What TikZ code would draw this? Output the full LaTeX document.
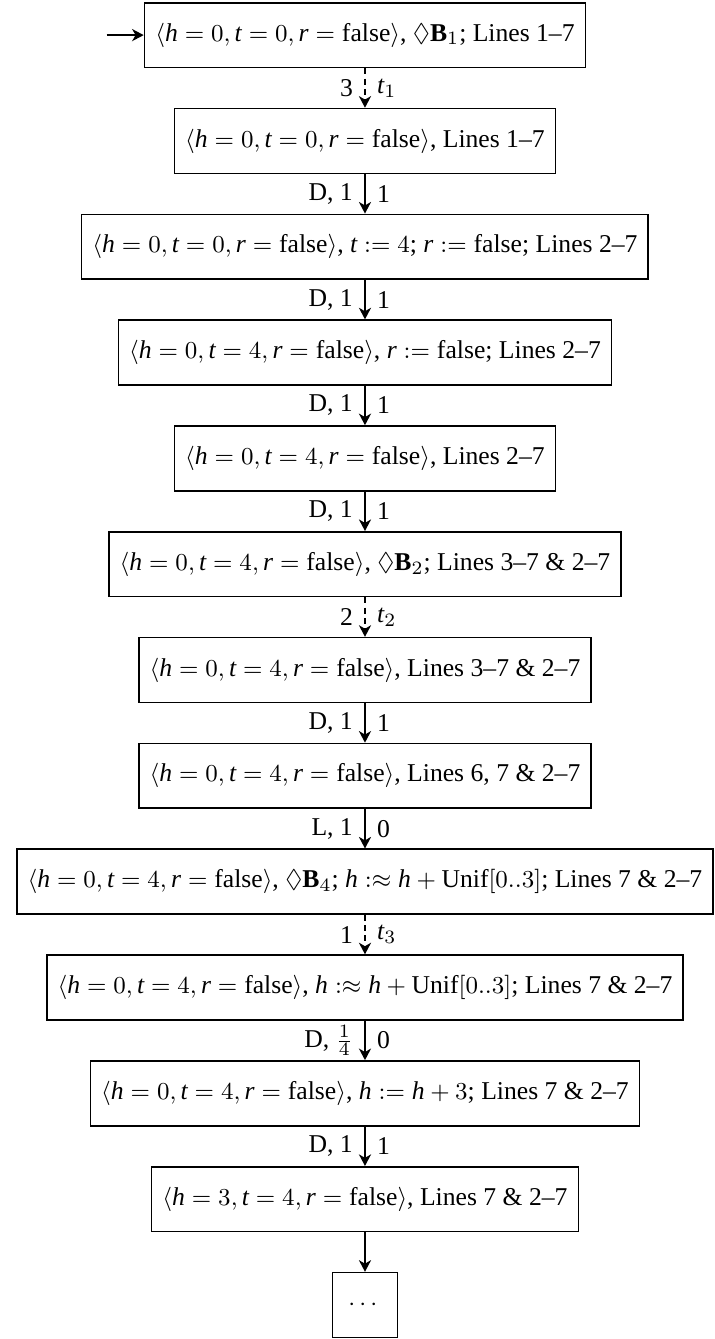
\documentclass[tikz,border=0pt]{standalone}
\usepackage{amsmath,amssymb}
\usepackage{fontspec}
\setmainfont{Liberation Serif}
\setmathrm{Liberation Serif}
\DeclareSymbolFont{varletters}{TU}{\rmdefault}{m}{it}
\DeclareSymbolFont{varupright}{TU}{\rmdefault}{m}{n}
\DeclareMathSymbol{h}{\mathalpha}{varletters}{`h}
\DeclareMathSymbol{t}{\mathalpha}{varletters}{`t}
\DeclareMathSymbol{r}{\mathalpha}{varletters}{`r}
\DeclareMathSymbol{0}{\mathalpha}{varupright}{`0}
\DeclareMathSymbol{1}{\mathalpha}{varupright}{`1}
\DeclareMathSymbol{2}{\mathalpha}{varupright}{`2}
\DeclareMathSymbol{3}{\mathalpha}{varupright}{`3}
\DeclareMathSymbol{4}{\mathalpha}{varupright}{`4}
\usetikzlibrary{positioning,arrows.meta}
\tikzset{
  statebox/.style={draw, line width=0.6pt, inner xsep=4pt, minimum height=24pt, font=\fontsize{9.5}{11.4}\selectfont},
  dotsbox/.style={statebox, minimum width=24pt},
  steparrow/.style={-{Stealth[length=4.3pt, width=4.5pt, inset=1.3pt]}, line width=0.6pt},
  probarrow/.style={steparrow, dash pattern=on 2.2pt off 1.6pt},
  edgelabel/.style={font=\fontsize{9.5}{11.4}\selectfont, inner sep=4.2pt},
}

\begin{document}
\begin{tikzpicture}[node distance=14.6pt]
  \useasboundingbox (-135.2pt,13pt) rectangle (129.6pt,-483pt);
  % Zustaende
  \node[statebox] (s1) at (0,0) {$\langle h = 0, t = 0, r = \text{false}\rangle$, $\Diamond\mathbf{B}_1$; Lines 1--7};
  \node[statebox, below=of s1] (s2) {$\langle h = 0, t = 0, r = \text{false}\rangle$, Lines 1--7};
  \node[statebox, below=of s2] (s3) {$\langle h = 0, t = 0, r = \text{false}\rangle$, $t := 4$; $r := \text{false}$; Lines 2--7};
  \node[statebox, below=of s3] (s4) {$\langle h = 0, t = 4, r = \text{false}\rangle$, $r := \text{false}$; Lines 2--7};
  \node[statebox, below=of s4] (s5) {$\langle h = 0, t = 4, r = \text{false}\rangle$, Lines 2--7};
  \node[statebox, below=of s5] (s6) {$\langle h = 0, t = 4, r = \text{false}\rangle$, $\Diamond\mathbf{B}_2$; Lines 3--7 \& 2--7};
  \node[statebox, below=of s6] (s7) {$\langle h = 0, t = 4, r = \text{false}\rangle$, Lines 3--7 \& 2--7};
  \node[statebox, below=of s7] (s8) {$\langle h = 0, t = 4, r = \text{false}\rangle$, Lines 6, 7 \& 2--7};
  \node[statebox, below=of s8] (s9) {$\langle h = 0, t = 4, r = \text{false}\rangle$, $\Diamond\mathbf{B}_4$; $h :\approx h + \text{Unif}[0..3]$; Lines 7 \& 2--7};
  \node[statebox, below=of s9] (s10) {$\langle h = 0, t = 4, r = \text{false}\rangle$, $h :\approx h + \text{Unif}[0..3]$; Lines 7 \& 2--7};
  \node[statebox, below=of s10] (s11) {$\langle h = 0, t = 4, r = \text{false}\rangle$, $h := h + 3$; Lines 7 \& 2--7};
  \node[statebox, below=of s11] (s12) {$\langle h = 3, t = 4, r = \text{false}\rangle$, Lines 7 \& 2--7};
  \node[dotsbox, below=of s12] (s13) {$\cdots$};
  % Startpfeil
  \coordinate (init) at ([xshift=-13.7pt]s1.west);
  \draw[steparrow] (init) -- (s1);
  % Uebergaenge
  \draw[probarrow] (s1) -- node[edgelabel, left] {3} node[edgelabel, right] {$t_1$} (s2);
  \draw[steparrow] (s2) -- node[edgelabel, left] {D, 1} node[edgelabel, right] {1} (s3);
  \draw[steparrow] (s3) -- node[edgelabel, left] {D, 1} node[edgelabel, right] {1} (s4);
  \draw[steparrow] (s4) -- node[edgelabel, left] {D, 1} node[edgelabel, right] {1} (s5);
  \draw[steparrow] (s5) -- node[edgelabel, left] {D, 1} node[edgelabel, right] {1} (s6);
  \draw[probarrow] (s6) -- node[edgelabel, left] {2} node[edgelabel, right] {$t_2$} (s7);
  \draw[steparrow] (s7) -- node[edgelabel, left] {D, 1} node[edgelabel, right] {1} (s8);
  \draw[steparrow] (s8) -- node[edgelabel, left] {L, 1} node[edgelabel, right] {0} (s9);
  \draw[probarrow] (s9) -- node[edgelabel, left] {1} node[edgelabel, right] {$t_3$} (s10);
  \draw[steparrow] (s10) -- node[edgelabel, left] {D, $\frac{1}{4}$} node[edgelabel, right] {0} (s11);
  \draw[steparrow] (s11) -- node[edgelabel, left] {D, 1} node[edgelabel, right] {1} (s12);
  \draw[steparrow] (s12) -- (s13);
\end{tikzpicture}
\end{document}
